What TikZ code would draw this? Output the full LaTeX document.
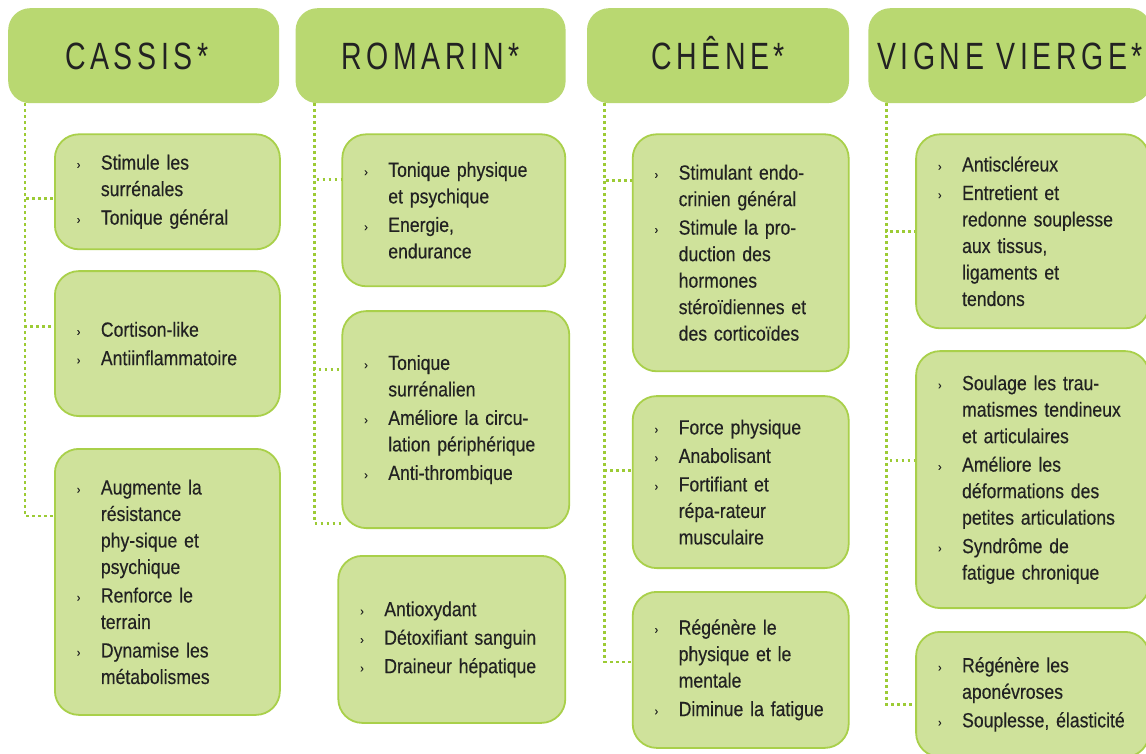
\documentclass[tikz,border=0pt]{standalone}
\usepackage{fontspec}
\setmainfont{Liberation Sans}[FakeStretch=0.86,FakeBold=0.35,WordSpace=0.8]
\newfontfamily\titrefont{Liberation Sans}[FakeStretch=0.75,LetterSpace=12]
\usepackage{xcolor}
\usepackage{tikz}
\usetikzlibrary{positioning}

\definecolor{entete}{HTML}{B9D871}
\definecolor{fond}{HTML}{CFE29B}
\definecolor{bordure}{HTML}{A9D04A}
\definecolor{pointille}{HTML}{9CCB35}
\definecolor{encre}{HTML}{222222}

\newcommand{\puce}{\makebox[24pt][l]{\raisebox{1pt}{\fontsize{12}{12}\selectfont ›}}}
\newcommand{\retrait}{\hspace*{24pt}}

\begin{document}
\begin{tikzpicture}[
        titre/.style={rectangle, fill=entete, rounded corners=22pt, minimum height=95pt, inner sep=0pt, text height=28pt, text depth=0pt, text=encre, font=\titrefont\fontsize{38}{38}\selectfont},
        carte/.style 2 args={rectangle, draw=bordure, line width=1.8pt, fill=fond, rounded corners=24pt, inner xsep=22pt, inner ysep=0pt, align=left, text=encre, text width=#1, minimum height=#2, font=\fontsize{20.5}{26.5}\selectfont},
        lien/.style={draw=pointille, line width=2.8pt, dash pattern=on 2.6pt off 3.4pt}
    ]
        \fill[white] (0,0) rectangle (1146pt,-754pt);
        \useasboundingbox (0,0) rectangle (1146pt,-754pt);

        % Headers
        \node[titre, minimum width=271pt, anchor=north west] (cas) at (8pt,-8pt) {CASSIS*\hspace*{14pt}};
        \node[titre, minimum width=270pt, right=16pt of cas] (rom) {ROMARIN*};
        \node[titre, minimum width=262pt, right=21pt of rom] (che) {CHÊNE*};
        \node[titre, minimum width=283pt, right=19pt of che] (vig) {VIGNE VIERGE*};

        % Cassis
        \node[carte={181pt}{115pt}, below=30pt of cas.south west, anchor=north west, xshift=46pt] (cas1)
            {\puce Stimule les\\ \retrait surrénales\\[2pt] \puce Tonique général};
        \node[carte={181pt}{145pt}, below=20pt of cas1] (cas2)
            {\puce Cortison-like\\[2pt] \puce Antiinflammatoire};
        \node[carte={181pt}{266pt}, below=31pt of cas2] (cas3)
            {\puce Augmente la\\ \retrait résistance\\ \retrait phy-sique et\\ \retrait psychique\\[2pt]
             \puce Renforce le\\ \retrait terrain\\[2pt] \puce Dynamise les\\ \retrait métabolismes};

        % Romarin
        \node[carte={179pt}{152pt}, below=30pt of rom.south west, anchor=north west, xshift=46pt] (rom1)
            {\puce Tonique physique\\ \retrait et psychique\\[2pt] \puce Energie,\\ \retrait endurance};
        \node[carte={183pt}{217pt}, below=23pt of rom1.south west, anchor=north west] (rom2)
            {\puce Tonique\\ \retrait surrénalien\\[2pt] \puce Améliore la circu-\\ \retrait lation périphérique\\[2pt]
             \puce Anti-thrombique};
        \node[carte={183pt}{167pt}, below=26pt of rom2.south west, anchor=north west, xshift=-4pt] (rom3)
            {\puce Antioxydant\\[2pt] \puce Détoxifiant sanguin\\[2pt] \puce Draineur hépatique};

        % Chene
        \node[carte={172pt}{237pt}, below=30pt of che.south west, anchor=north west, xshift=45pt] (che1)
            {\puce Stimulant endo-\\ \retrait crinien général\\[2pt] \puce Stimule la pro-\\ \retrait duction des\\
             \retrait hormones\\ \retrait stéroïdiennes et\\ \retrait des corticoïdes};
        \node[carte={172pt}{172pt}, below=23pt of che1] (che2)
            {\puce Force physique\\[2pt] \puce Anabolisant\\[2pt] \puce Fortifiant et\\ \retrait répa-rateur\\
             \retrait musculaire};
        \node[carte={172pt}{156pt}, below=22pt of che2] (che3)
            {\puce Régénère le\\ \retrait physique et le\\ \retrait mentale\\[2pt] \puce Diminue la fatigue};

        % Vigne vierge
        \node[carte={189pt}{194pt}, below=30pt of vig.south west, anchor=north west, xshift=47pt] (vig1)
            {\puce Antiscléreux\\[2pt] \puce Entretient et\\ \retrait redonne souplesse\\ \retrait aux tissus,\\
             \retrait ligaments et\\ \retrait tendons};
        \node[carte={189pt}{257pt}, below=21pt of vig1] (vig2)
            {\puce Soulage les trau-\\ \retrait matismes tendineux\\ \retrait et articulaires\\[2pt]
             \puce Améliore les\\ \retrait déformations des\\ \retrait petites articulations\\[2pt]
             \puce Syndrôme de\\ \retrait fatigue chronique};
        \node[carte={189pt}{125pt}, below=22pt of vig2] (vig3)
            {\puce Régénère les\\ \retrait aponévroses\\[2pt] \puce Souplesse, élasticité};

        % Dotted links
        \coordinate (cas-d) at ([xshift=17pt]cas.south west);
        \coordinate (rom-d) at ([xshift=19pt]rom.south west);
        \coordinate (che-d) at ([xshift=18pt]che.south west);
        \coordinate (vig-d) at ([xshift=18pt]vig.south west);

        \draw[lien] (cas-d) |- ([yshift=-6.5pt]cas1.west);
        \draw[lien] (cas-d) |- ([yshift=17.5pt]cas2.west);
        \draw[lien] (cas-d) |- ([yshift=66pt]cas3.west);

        \draw[lien] (rom-d) |- ([yshift=31pt]rom1.west);
        \draw[lien] (rom-d) |- ([yshift=50.5pt]rom2.west);
        \draw[lien] (rom-d) |- ([yshift=-103.5pt]rom2.west);

        \draw[lien] (che-d) |- ([yshift=72.5pt]che1.west);
        \draw[lien] (che-d) |- ([yshift=12pt]che2.west);
        \draw[lien] (che-d) |- ([yshift=8pt]che3.west);

        \draw[lien] (vig-d) |- (vig1.west);
        \draw[lien] (vig-d) |- ([yshift=19.5pt]vig2.west);
        \draw[lien] (vig-d) |- ([yshift=-10pt]vig3.west);

    \end{tikzpicture}
\end{document}
